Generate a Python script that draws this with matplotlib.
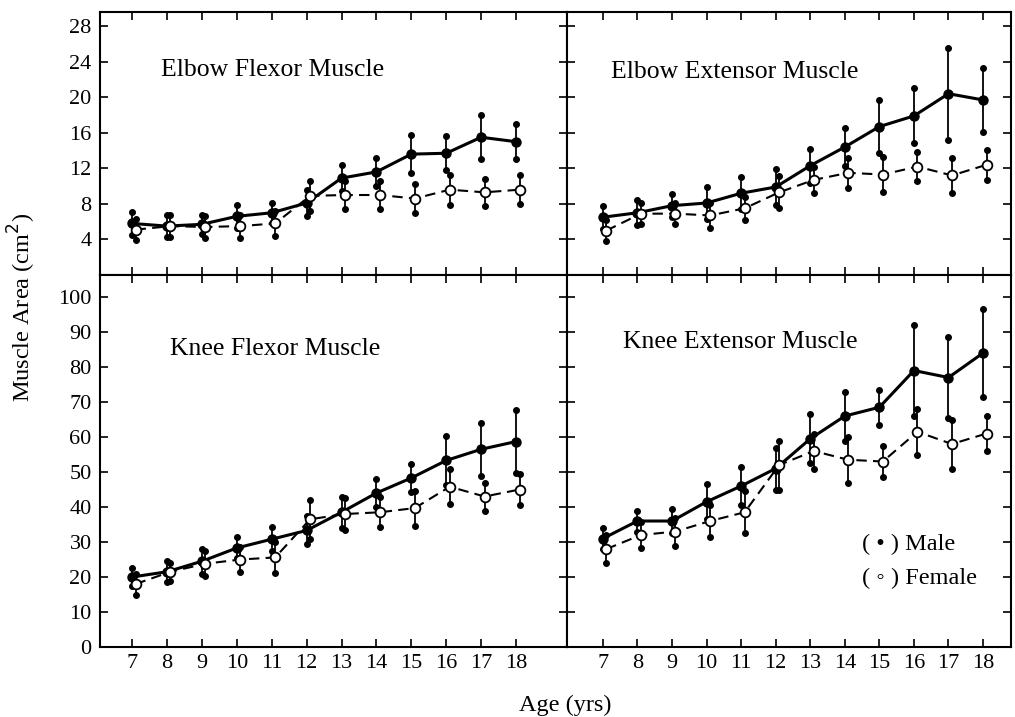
import matplotlib
matplotlib.use("Agg")
import matplotlib.pyplot as plt
import numpy as np

plt.rcParams['font.family'] = ['Liberation Serif', 'DejaVu Serif']

ages = [7, 8, 9, 10, 11, 12, 13, 14, 15, 16, 17, 18]

# elbow flexor (cm2)
ef_male = [5.8, 5.5, 5.7, 6.6, 7.0, 8.1, 10.9, 11.6, 13.6, 13.7, 15.5, 15.0]
ef_male_sd = [1.3, 1.25, 1.1, 1.3, 1.1, 1.5, 1.5, 1.6, 2.1, 1.9, 2.5, 2.0]
ef_female = [5.1, 5.5, 5.4, 5.5, 5.8, 8.9, 9.0, 9.0, 8.6, 9.6, 9.3, 9.6]
ef_female_sd = [1.2, 1.2, 1.2, 1.3, 1.4, 1.7, 1.6, 1.6, 1.6, 1.7, 1.5, 1.6]

# elbow extensor
ee_male = [6.5, 7.0, 7.8, 8.1, 9.2, 9.9, 12.3, 14.4, 16.7, 17.9, 20.4, 19.7]
ee_male_sd = [1.3, 1.4, 1.3, 1.8, 1.8, 2.0, 1.9, 2.1, 3.0, 3.1, 5.2, 3.6]
ee_female = [5.0, 6.9, 6.9, 6.7, 7.5, 9.3, 10.7, 11.5, 11.3, 12.2, 11.2, 12.4]
ee_female_sd = [1.2, 1.2, 1.2, 1.4, 1.3, 1.8, 1.5, 1.7, 2.0, 1.6, 2.0, 1.7]

# knee flexor
kf_male = [20.0, 21.5, 24.5, 28.3, 30.8, 33.3, 38.5, 44.0, 48.3, 53.3, 56.5, 58.7]
kf_male_sd = [2.5, 3.0, 3.5, 3.0, 3.5, 4.0, 4.5, 4.0, 4.0, 7.0, 7.5, 9.0]
kf_female = [18.0, 21.5, 23.8, 25.0, 25.6, 36.5, 38.0, 38.5, 39.7, 45.8, 43.0, 45.0]
kf_female_sd = [3.0, 2.5, 3.5, 3.5, 4.5, 5.5, 4.5, 4.3, 5.0, 5.0, 4.0, 4.5]

# knee extensor
ke_male = [31.0, 36.0, 36.0, 41.5, 46.0, 51.0, 59.5, 66.0, 68.5, 79.0, 77.0, 84.0]
ke_male_sd = [3.0, 3.0, 3.5, 5.0, 5.5, 6.0, 7.0, 7.0, 5.0, 13.0, 11.5, 12.5]
ke_female = [28.0, 32.0, 33.0, 36.0, 38.5, 52.0, 56.0, 53.5, 53.0, 61.5, 58.0, 61.0]
ke_female_sd = [4.0, 3.8, 4.0, 4.5, 6.0, 7.0, 5.0, 6.5, 4.5, 6.5, 7.0, 5.0]

panels = [
    ("Elbow Flexor Muscle", ef_male, ef_male_sd, ef_female, ef_female_sd),
    ("Elbow Extensor Muscle", ee_male, ee_male_sd, ee_female, ee_female_sd),
    ("Knee Flexor Muscle", kf_male, kf_male_sd, kf_female, kf_female_sd),
    ("Knee Extensor Muscle", ke_male, ke_male_sd, ke_female, ke_female_sd),
]

fig = plt.figure(figsize=(10.15, 7.17), dpi=100)
lx, lw = 0.0985, 0.4601
rx, rw = 0.5586, 0.4375
ty, th = 0.6165, 0.3668
by, bh = 0.0976, 0.5189
rects = [(lx, ty, lw, th), (rx, ty, rw, th), (lx, by, lw, bh), (rx, by, rw, bh)]
xlims = [(6.08, 19.46), (5.96, 18.81), (6.08, 19.46), (5.96, 18.81)]
ylims = [(0, 29.6), (0, 29.6), (0, 106.3), (0, 106.3)]
title_pos = [(0.13, 0.78), (0.10, 0.77), (0.15, 0.80), (0.126, 0.82)]

off = 0.1  # females drawn a little to the right
a = np.array(ages, dtype=float)

for i, (name, m, msd, f, fsd) in enumerate(panels):
    ax = fig.add_axes(rects[i])
    m, msd, f, fsd = map(np.array, (m, msd, f, fsd))
    # error bars with dot ends
    ax.vlines(a, m - msd, m + msd, color='black', lw=1.3, zorder=2)
    ax.plot(np.r_[a, a], np.r_[m - msd, m + msd], 'o', color='black', ms=4, zorder=2)
    ax.vlines(a + off, f - fsd, f + fsd, color='black', lw=1.3, zorder=2)
    ax.plot(np.r_[a, a] + off, np.r_[f - fsd, f + fsd], 'o', color='black', ms=4, zorder=2)
    ax.plot(a, m, '-', color='black', lw=2.2, marker='o', ms=6.5, zorder=3)
    ax.plot(a + off, f, '--', color='black', lw=1.5, dashes=(5, 3), zorder=4)
    ax.plot(a + off, f, 'o', mfc='white', mec='black', mew=1.3, ms=7, zorder=5)

    ax.set_xlim(*xlims[i])
    ax.set_ylim(*ylims[i])
    ax.set_xticks(ages)
    if i < 2:
        ax.set_yticks([4, 8, 12, 16, 20, 24, 28])
    else:
        ax.set_yticks(range(0, 101, 10))
    ax.tick_params(direction='in', length=6, width=1.2, top=True, right=True,
                   labelsize=16)
    ax.tick_params(axis='x', pad=5)
    ax.tick_params(axis='y', pad=6)
    if i < 2:
        ax.tick_params(labelbottom=False)
    if i % 2 == 1:
        ax.tick_params(labelleft=False)
    for s in ax.spines.values():
        s.set_linewidth(1.5)
    ax.text(title_pos[i][0], title_pos[i][1], name, transform=ax.transAxes,
            fontsize=18.5, ha='left', va='center')

    if i == 3:
        ax.text(0.665, 0.275, "( • ) Male", transform=ax.transAxes, fontsize=17.5,
                ha='left', va='center')
        ax.text(0.665, 0.185, "( ◦ ) Female", transform=ax.transAxes, fontsize=17.5,
                ha='left', va='center')

fig.text(0.557, 1 - 705 / 717, "Age (yrs)", ha='center', va='center', fontsize=17.5)
fig.text(0.022, 1 - 307 / 717, "Muscle Area (cm$^2$)", rotation=90, ha='center',
         va='center', fontsize=17.5)

fig.savefig("out.png", dpi=100)
